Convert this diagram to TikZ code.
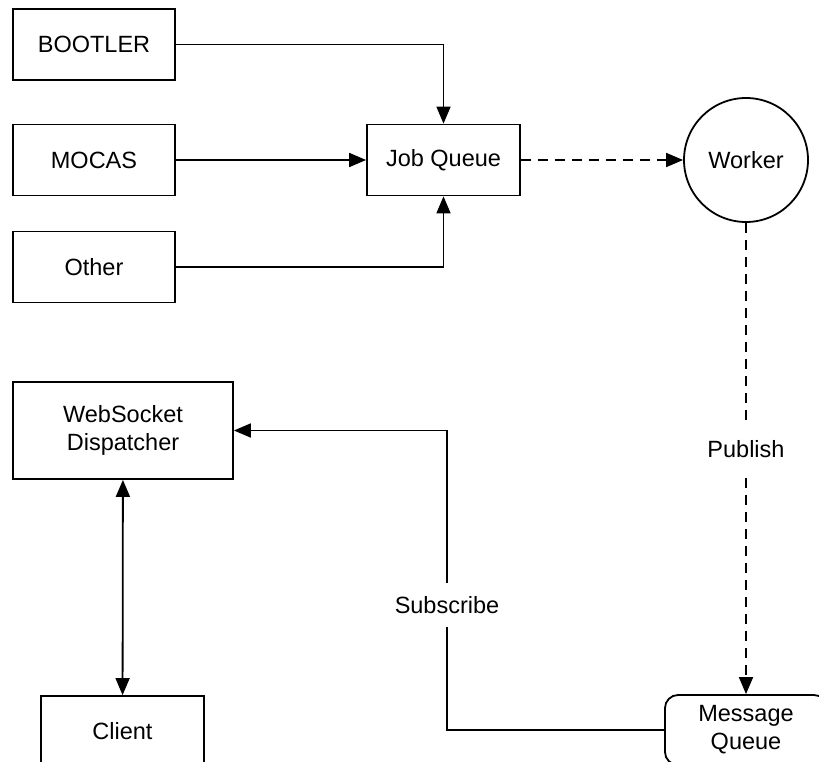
\documentclass[tikz,border=0pt]{standalone}
\usepackage{fontspec}
\setmainfont{Liberation Sans}
\usetikzlibrary{positioning,shapes,arrows.meta,calc}

\tikzset{
  box/.style={draw, line width=1.8pt, minimum width=162pt, minimum height=71pt, inner sep=0pt, align=center},
  flow/.style={line width=1.8pt, -{Triangle[length=17pt,width=14pt]}},
  twoway/.style={line width=1.8pt, {Triangle[length=17pt,width=14pt]}-{Triangle[length=17pt,width=14pt]}},
  dashflow/.style={flow, dash pattern=on 10pt off 7pt},
  lbl/.style={fill=white, inner xsep=3pt, inner ysep=13pt}
}

\begin{document}
\begin{tikzpicture}[x=1pt, y=-1pt, font=\fontsize{23.5}{28}\selectfont]
    \useasboundingbox (0,0) rectangle (819,762);
    \clip (0,0) rectangle (819,762);

    % sources
    \node[box] (bootler) at (94,44.5) {BOOTLER};
    \node[box] (mocas) at (94,160) {MOCAS};
    \node[box] (other) at (94,267) {Other};

    \node[box, minimum width=153pt] (jobqueue) at (443.5,160) {Job Queue};
    \node[draw, circle, line width=1.8pt, minimum size=124pt, inner sep=0pt] (worker) at (746,160) {Worker};

    % lower half
    \node[box, minimum width=220pt, minimum height=97pt] (wsdispatcher) at (123,430.5) {WebSocket\\Dispatcher};
    \node[box, minimum width=163pt, minimum height=70pt] (client) at (122.5,731) {Client};
    \node[box, rounded corners=13pt, minimum height=70pt] (msgqueue) at (746,730) {Message\\Queue};

    \draw[flow] (bootler.east) -| (jobqueue.north);
    \draw[flow] (mocas) -- (jobqueue);
    \draw[flow] (other.east) -| (jobqueue.south);
    \draw[dashflow] (jobqueue) -- (worker);
    \draw[dashflow] (worker) -- node[lbl, pos=0.48] (publish) {Publish} (msgqueue);
    \draw[twoway] (wsdispatcher) -- (client);

    \coordinate (subtop) at (447,430.5);
    \draw[flow] (msgqueue.west) -| (subtop) -- (wsdispatcher.east);
    \node[lbl] (subscribe) at (447,605) {Subscribe};
\end{tikzpicture}
\end{document}
